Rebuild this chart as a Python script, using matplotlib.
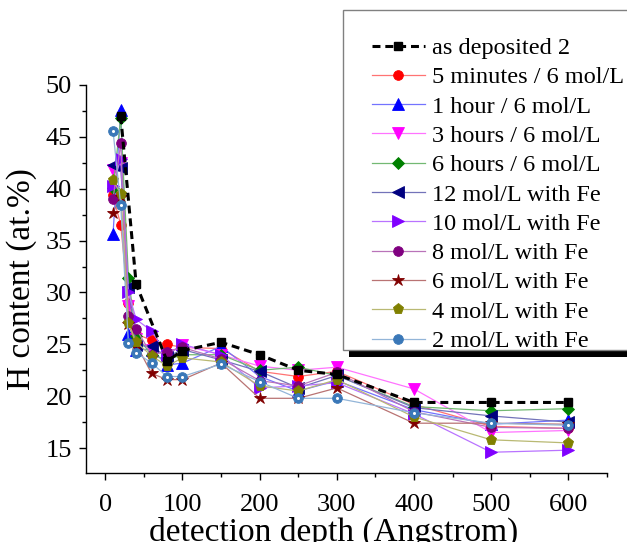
import matplotlib
matplotlib.use("Agg")
import matplotlib.pyplot as plt
from matplotlib.ticker import MultipleLocator
from matplotlib.patches import Rectangle
import numpy as np

plt.rcParams['font.family'] = ['Liberation Serif', 'DejaVu Serif']

# ---------------- data ----------------
x_full = [10, 20, 30, 40, 60, 80, 100, 150, 200, 250, 300, 400, 500, 600]
x_dep = [20, 40, 80, 100, 150, 200, 250, 300, 400, 500, 600]

as_deposited = [47.0, 30.8, 23.4, 24.4, 25.2, 24.0, 22.5, 22.1, 19.4, 19.4, 19.4]
min5_6M   = [39.4, 36.5, 29.0, 26.0, 25.4, 25.0, 24.7, 24.6, 22.4, 21.9, 22.4, 19.2, 17.1, 16.9]
h1_6M     = [35.6, 47.6, 26.0, 24.5, 24.5, 23.0, 23.2, 24.8, 21.9, 20.5, 21.5, 18.7, 17.3, 17.7]
h3_6M     = [41.8, 42.5, 28.7, 25.5, 24.5, 24.0, 24.9, 24.0, 22.9, 22.5, 22.8, 20.7, 16.5, 16.7]
h6_6M     = [40.1, 46.8, 31.4, 25.8, 24.0, 23.5, 24.0, 24.0, 22.5, 22.8, 22.0, 19.0, 18.6, 18.8]
fe12      = [42.3, 42.0, 30.5, 24.9, 24.8, 23.8, 24.5, 23.5, 22.4, 20.8, 22.0, 18.9, 18.1, 17.5]
fe10      = [40.3, 42.9, 30.0, 27.4, 26.3, 24.0, 25.0, 24.0, 20.8, 21.0, 21.3, 18.3, 14.6, 14.8]
fe8       = [39.0, 44.4, 27.7, 26.5, 24.0, 24.3, 24.7, 23.6, 21.5, 21.0, 22.3, 18.5, 17.0, 16.9]
fe6       = [37.7, 39.2, 27.0, 25.0, 22.2, 21.6, 21.6, 23.2, 19.8, 19.8, 20.8, 17.4, 17.4, 17.3]
fe4       = [40.8, 39.5, 27.1, 25.2, 23.9, 22.9, 23.7, 23.3, 21.0, 20.5, 21.6, 18.0, 15.8, 15.5]
fe2       = [45.6, 38.4, 25.1, 24.2, 23.2, 21.9, 21.9, 23.1, 21.4, 19.8, 19.8, 18.4, 17.4, 17.2]

labels = ["5 minutes / 6 mol/L", "1 hour / 6 mol/L", "3 hours / 6 mol/L",
          "6 hours / 6 mol/L", "12 mol/L with Fe", "10 mol/L with Fe",
          "8 mol/L with Fe", "6 mol/L with Fe", "4 mol/L with Fe", "2 mol/L with Fe"]
series = [min5_6M, h1_6M, h3_6M, h6_6M, fe12, fe10, fe8, fe6, fe4, fe2]
colors = ["#FF0000", "#0000FF", "#FF00FF", "#008000", "#000080",
          "#8000FF", "#800080", "#800000", "#808000", "#3A78B8"]
markers = ["o", "^", "v", "D", "<", ">", "o", "*", "p", "o"]
msizes = [7, 8, 8, 6, 8, 8, 7, 9, 8, 7]


def lighten(c, f=0.45):
    c = np.array(matplotlib.colors.to_rgb(c))
    return tuple(c + (1 - c) * f)


W, H = 627, 542
fig = plt.figure(figsize=(W / 100, H / 100), dpi=100)
ax = fig.add_axes([86 / W, (H - 473) / H, (607 - 86) / W, (473 - 85) / H])

handles = []
hd, = ax.plot(x_dep, as_deposited, color="black", lw=2.2, ls=(0, (2.6, 1.6)),
              marker="s", ms=6, mfc="black", mec="black", zorder=5,
              label="as deposited 2")
handles.append(hd)
for y, lab, c, m, s in zip(series, labels, colors, markers, msizes):
    h, = ax.plot(x_full, y, color=lighten(c), lw=0.9, marker=m, ms=s,
                 mfc=c, mec=c, mew=0.6, label=lab, zorder=3)
    handles.append(h)
# highlight on sphere markers
ax.plot(x_full, fe2, ls="none", marker="o", ms=2.2, mfc="white", mec="none", zorder=4)

ax.set_xlim(-25, 650)
ax.set_ylim(12.6, 50)
ax.xaxis.set_minor_locator(MultipleLocator(50))
ax.yaxis.set_minor_locator(MultipleLocator(2.5))
ax.set_yticks([15, 20, 25, 30, 35, 40, 45, 50])
ax.set_xticks([0, 100, 200, 300, 400, 500, 600])
ax.tick_params(which="major", direction="out", length=5, width=1, labelsize=19, pad=5)
ax.tick_params(axis="x", which="major", pad=10)
ax.tick_params(which="minor", direction="out", length=3, width=1)
for sp in ["top", "right"]:
    ax.spines[sp].set_visible(False)
for sp in ["left", "bottom"]:
    ax.spines[sp].set_linewidth(1.0)

ax.set_xlabel("detection depth (Angstrom)", fontsize=24)
ax.set_ylabel("H content (at.%)", fontsize=24)
ax.xaxis.set_label_coords(0.476, -0.113)
ax.yaxis.set_label_coords(-0.094, 0.5)

# legend frame + shadow (drawn in figure pixels)
fl, ft, fb = 343, 10, 350
shadow = Rectangle((fl + 6, H - fb - 7), 400, fb - ft, transform=None,
                   facecolor="black", edgecolor="none", zorder=8)
frame = Rectangle((fl, H - fb), 400, fb - ft, transform=None,
                  facecolor="white", edgecolor="#808080", lw=1.0, zorder=9)
fig.patches.extend([shadow, frame])

leg = fig.legend(handles=handles, loc="upper left",
                 bbox_to_anchor=(372 / W, 1 - 37 / H), frameon=False,
                 fontsize=17.5, borderpad=0, handlelength=2.18, handletextpad=0.29,
                 labelspacing=0.3, borderaxespad=0)
leg.set_zorder(10)

fig.savefig("out.png", dpi=100)
